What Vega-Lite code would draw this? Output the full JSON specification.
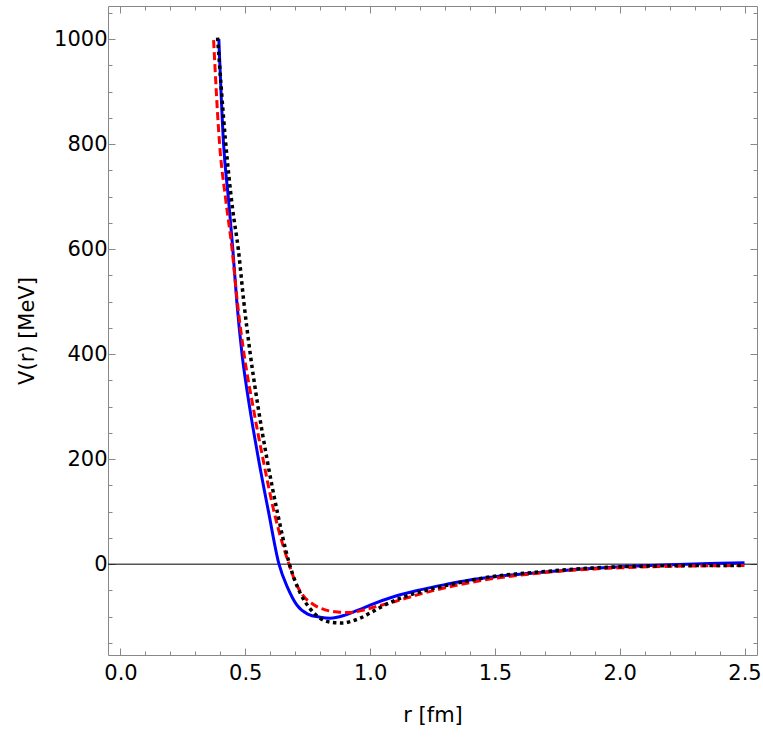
{
  "$schema": "https://vega.github.io/schema/vega-lite/v6.json",
  "width": 649,
  "height": 649,
  "autosize": {"type": "none"},
  "padding": {"left": 108, "top": 6, "right": 6, "bottom": 85},
  "background": "white",
  "config": {
    "view": {"stroke": null},
    "font": "DejaVu Sans",
    "axis": {
      "domainColor": "#888888",
      "domainWidth": 1,
      "tickColor": "#888888",
      "tickWidth": 1,
      "grid": false,
      "labelFont": "DejaVu Sans",
      "labelFontSize": 21,
      "labelColor": "black",
      "titleFont": "DejaVu Sans",
      "titleFontSize": 21,
      "titleFontWeight": "normal",
      "titleColor": "black",
      "labelFlush": false,
      "labelOverlap": false
    }
  },
  "datasets": {
    "blue": [
      {"r": 0.394, "V": 1000}, {"r": 0.413, "V": 800}, {"r": 0.433, "V": 693}, {"r": 0.45, "V": 600},
      {"r": 0.466, "V": 500}, {"r": 0.487, "V": 400}, {"r": 0.517, "V": 300}, {"r": 0.553, "V": 200},
      {"r": 0.593, "V": 100}, {"r": 0.635, "V": 0}, {"r": 0.67, "V": -45}, {"r": 0.707, "V": -78},
      {"r": 0.75, "V": -95}, {"r": 0.8, "V": -101}, {"r": 0.84, "V": -103}, {"r": 0.9, "V": -97},
      {"r": 0.96, "V": -86}, {"r": 1.0, "V": -78}, {"r": 1.1, "V": -61}, {"r": 1.2, "V": -49},
      {"r": 1.3, "V": -39}, {"r": 1.4, "V": -30}, {"r": 1.5, "V": -24}, {"r": 1.6, "V": -19},
      {"r": 1.7, "V": -15}, {"r": 1.8, "V": -11}, {"r": 1.9, "V": -8}, {"r": 2.0, "V": -5},
      {"r": 2.1, "V": -3}, {"r": 2.2, "V": -1}, {"r": 2.3, "V": 0.5}, {"r": 2.4, "V": 1.5}, {"r": 2.5, "V": 2.5}
    ],
    "red": [
      {"r": 0.373, "V": 998}, {"r": 0.397, "V": 800}, {"r": 0.422, "V": 693}, {"r": 0.447, "V": 600},
      {"r": 0.468, "V": 500}, {"r": 0.495, "V": 400}, {"r": 0.531, "V": 300}, {"r": 0.571, "V": 200},
      {"r": 0.615, "V": 100}, {"r": 0.675, "V": 0}, {"r": 0.7, "V": -33}, {"r": 0.727, "V": -57},
      {"r": 0.77, "V": -76}, {"r": 0.82, "V": -87}, {"r": 0.87, "V": -91}, {"r": 0.92, "V": -92},
      {"r": 0.97, "V": -88}, {"r": 1.0, "V": -84}, {"r": 1.1, "V": -71}, {"r": 1.2, "V": -57},
      {"r": 1.3, "V": -45}, {"r": 1.4, "V": -35}, {"r": 1.5, "V": -27}, {"r": 1.6, "V": -21},
      {"r": 1.7, "V": -16}, {"r": 1.8, "V": -12}, {"r": 1.9, "V": -9}, {"r": 2.0, "V": -7},
      {"r": 2.2, "V": -4}, {"r": 2.4, "V": -3}, {"r": 2.5, "V": -2.5}
    ],
    "black": [
      {"r": 0.389, "V": 1003}, {"r": 0.42, "V": 810}, {"r": 0.449, "V": 677}, {"r": 0.472, "V": 600},
      {"r": 0.494, "V": 500}, {"r": 0.52, "V": 400}, {"r": 0.551, "V": 300}, {"r": 0.587, "V": 200},
      {"r": 0.628, "V": 100}, {"r": 0.677, "V": 0}, {"r": 0.7, "V": -33}, {"r": 0.72, "V": -55},
      {"r": 0.76, "V": -85}, {"r": 0.8, "V": -103}, {"r": 0.85, "V": -111}, {"r": 0.89, "V": -112},
      {"r": 0.93, "V": -108}, {"r": 0.96, "V": -103}, {"r": 1.0, "V": -93}, {"r": 1.05, "V": -80},
      {"r": 1.12, "V": -65}, {"r": 1.2, "V": -53}, {"r": 1.3, "V": -41}, {"r": 1.4, "V": -31},
      {"r": 1.5, "V": -23}, {"r": 1.6, "V": -18}, {"r": 1.7, "V": -14}, {"r": 1.8, "V": -10},
      {"r": 1.9, "V": -7}, {"r": 2.0, "V": -5}, {"r": 2.2, "V": -3}, {"r": 2.4, "V": -2.5}, {"r": 2.5, "V": -2.5}
    ],
    "zero": [{"x0": -0.05, "x1": 2.55, "v": 0}]
  },
  "layer": [
    {
      "data": {"name": "zero"},
      "mark": {"type": "rule", "color": "black", "strokeWidth": 1},
      "encoding": {
        "x": {"field": "x0", "type": "quantitative",
          "scale": {"domain": [-0.05, 2.55], "nice": false, "zero": false},
          "axis": {"orient": "top", "title": null, "labels": false,
            "values": [0,0.1,0.2,0.3,0.4,0.5,0.6,0.7,0.8,0.9,1,1.1,1.2,1.3,1.4,1.5,1.6,1.7,1.8,1.9,2,2.1,2.2,2.3,2.4,2.5],
            "tickSize": {"condition": {"test": "abs(datum.value*2 - round(datum.value*2)) < 0.001", "value": -7}, "value": -4}}},
        "x2": {"field": "x1"},
        "y": {"field": "v", "type": "quantitative",
          "scale": {"domain": [-173, 1063], "nice": false, "zero": false},
          "axis": {"orient": "right", "title": null, "labels": false,
            "values": [-150,-100,-50,0,50,100,150,200,250,300,350,400,450,500,550,600,650,700,750,800,850,900,950,1000,1050],
            "tickSize": {"condition": {"test": "datum.value % 200 == 0", "value": -7}, "value": -4}}}
      }
    },
    {
      "data": {"name": "blue"},
      "mark": {"type": "line", "color": "#0000ff", "strokeWidth": 3, "clip": true, "interpolate": "monotone"},
      "encoding": {
        "x": {"field": "r", "type": "quantitative",
          "axis": {"orient": "bottom", "title": "r [fm]", "titlePadding": 18, "labelPadding": 14,
            "values": [0,0.1,0.2,0.3,0.4,0.5,0.6,0.7,0.8,0.9,1,1.1,1.2,1.3,1.4,1.5,1.6,1.7,1.8,1.9,2,2.1,2.2,2.3,2.4,2.5],
            "labelExpr": "abs(datum.value*2 - round(datum.value*2)) < 0.001 ? format(datum.value, '.1f') : ''",
            "tickSize": {"condition": {"test": "abs(datum.value*2 - round(datum.value*2)) < 0.001", "value": -7}, "value": -4}}},
        "y": {"field": "V", "type": "quantitative",
          "axis": {"orient": "left", "title": "V(r) [MeV]", "titlePadding": 16, "labelPadding": 8,
            "values": [-150,-100,-50,0,50,100,150,200,250,300,350,400,450,500,550,600,650,700,750,800,850,900,950,1000,1050],
            "labelExpr": "datum.value % 200 == 0 ? format(datum.value, 'd') : ''",
            "tickSize": {"condition": {"test": "datum.value % 200 == 0", "value": -7}, "value": -4}}}
      }
    },
    {
      "data": {"name": "red"},
      "mark": {"type": "line", "color": "#ff0000", "strokeWidth": 3, "strokeDash": [8, 4], "clip": true, "interpolate": "monotone"},
      "encoding": {
        "x": {"field": "r", "type": "quantitative", "axis": null},
        "y": {"field": "V", "type": "quantitative", "axis": null}
      }
    },
    {
      "data": {"name": "black"},
      "mark": {"type": "line", "color": "#000000", "strokeWidth": 3.5, "strokeDash": [3.5, 3.5], "clip": true, "interpolate": "monotone"},
      "encoding": {
        "x": {"field": "r", "type": "quantitative", "axis": null},
        "y": {"field": "V", "type": "quantitative", "axis": null}
      }
    }
  ],
  "resolve": {"axis": {"x": "independent", "y": "independent"}}
}
